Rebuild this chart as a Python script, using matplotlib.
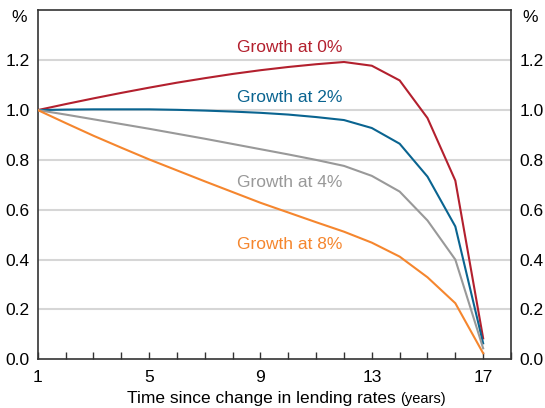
import matplotlib
matplotlib.use("Agg")
import matplotlib.pyplot as plt

plt.rcParams['font.family'] = ['Liberation Sans', 'DejaVu Sans']

years = list(range(1, 18))
growth_0 = [1.0, 1.024, 1.047, 1.069, 1.090, 1.110, 1.128, 1.145, 1.160, 1.173, 1.184, 1.193,
            1.178, 1.119, 0.968, 0.717, 0.084]
growth_2 = [1.0, 1.002, 1.003, 1.003, 1.003, 1.001, 0.998, 0.994, 0.989, 0.982, 0.972, 0.960,
            0.928, 0.865, 0.733, 0.533, 0.064]
growth_4 = [1.0, 0.982, 0.963, 0.944, 0.925, 0.905, 0.885, 0.864, 0.843, 0.822, 0.800, 0.776,
            0.736, 0.673, 0.557, 0.400, 0.044]
growth_8 = [1.0, 0.948, 0.897, 0.849, 0.802, 0.758, 0.714, 0.671, 0.628, 0.589, 0.550, 0.512,
            0.468, 0.412, 0.329, 0.225, 0.024]

series = [
    (growth_0, 'Growth at 0%', '#B3202E', 1.25),
    (growth_2, 'Growth at 2%', '#0A6490', 1.05),
    (growth_4, 'Growth at 4%', '#999999', 0.71),
    (growth_8, 'Growth at 8%', '#F5862E', 0.46),
]

y_ticks = [0.0, 0.2, 0.4, 0.6, 0.8, 1.0, 1.2]
x_ticks = [1, 5, 9, 13, 17]

fig = plt.figure(figsize=(5.45, 4.08), dpi=100)
ax = fig.add_axes([0.0694, 0.1194, 0.8682, 0.8551])

for vals, name, col, ly in series:
    ax.plot(years, vals, color=col, lw=1.5, zorder=3)
    ax.text(10.05, ly, name, color=col, fontsize=12.5, ha='center', va='center')

ax.set_xlim(1, 18)
ax.set_ylim(0, 1.4)

for yv in y_ticks[1:]:
    ax.axhline(yv, color='#D6D6D6', lw=1.5, zorder=1)

ax.set_yticks(y_ticks)
ax.set_yticklabels(['%.1f' % v for v in y_ticks])
ax.tick_params(axis='y', length=0, labelsize=12.5, pad=6,
               left=True, right=True, labelleft=True, labelright=True)
ax.set_xticks(range(1, 19), minor=True)
ax.set_xticks(x_ticks)
ax.tick_params(axis='x', which='both', direction='in', length=5, width=1,
               color='#333333', labelsize=12.5, pad=8)

ax.text(-0.04, 1.37, '%', transform=ax.get_yaxis_transform(), ha='center', va='center',
        fontsize=12.5)
ax.text(1.04, 1.37, '%', transform=ax.get_yaxis_transform(), ha='center', va='center',
        fontsize=12.5)

for s in ax.spines.values():
    s.set_color('#333333')
    s.set_linewidth(1.2)

fig.text(0.7266, 0.0245, 'Time since change in lending rates', ha='right', va='center',
         fontsize=12.5)
fig.text(0.734, 0.0225, '(years)', ha='left', va='center', fontsize=10.5)

fig.savefig('out.png', dpi=100)
